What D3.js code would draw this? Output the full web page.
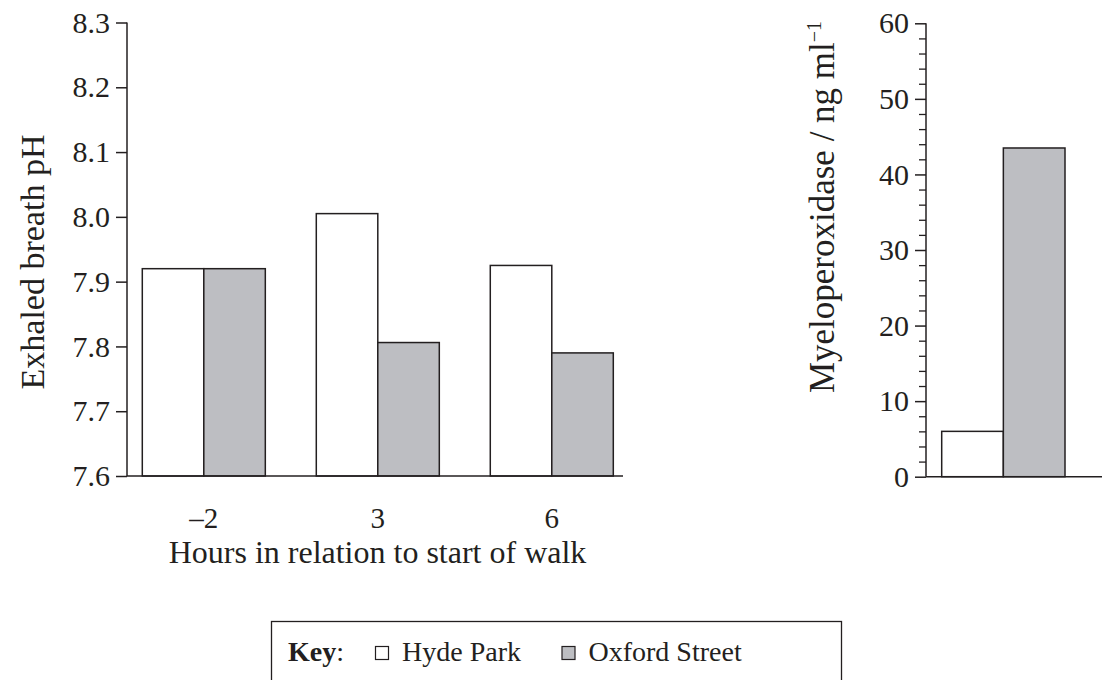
<!DOCTYPE html>
<html><head><meta charset="utf-8">
<script src="https://cdn.jsdelivr.net/npm/d3@7"></script>
<style>
html,body{margin:0;padding:0;background:#fff;}
svg{display:block;}
text{font-family:"Liberation Serif","Times New Roman",serif;fill:#231f20;}
</style></head>
<body>
<svg id="chart" width="1102" height="680"></svg>
<script>
// ---- data ----
const hours = ["\u20132", "3", "6"];
const seriesNames = ["Hyde Park", "Oxford Street"];
const hydeParkPH = [7.92, 8.005, 7.925];
const oxfordStreetPH = [7.92, 7.806, 7.79];
const phTicks = [7.6, 7.7, 7.8, 7.9, 8.0, 8.1, 8.2, 8.3];
const mpoValues = [6, 43.5];          // Hyde Park, Oxford Street
const mpoTicks = [0, 10, 20, 30, 40, 50, 60];
const mpoMinorTicks = d3.range(0, 61, 2);

const colors = { "Hyde Park": "#ffffff", "Oxford Street": "#bdbec2" };
const stroke = "#231f20";

const svg = d3.select("#chart");

// ---- left chart ----
const yL = d3.scaleLinear().domain([7.6, 8.3]).range([476, 22.5]);
const xL = d3.scaleBand().domain(hours).range([142.3, 613.3]).paddingInner(0.293).paddingOuter(0);
const xS = d3.scaleBand().domain(seriesNames).range([0, xL.bandwidth()]);

const leftData = hours.map((h, i) => ({ h, vals: [
  { s: "Hyde Park", v: hydeParkPH[i] }, { s: "Oxford Street", v: oxfordStreetPH[i] } ] }));

const gL = svg.append("g");
gL.selectAll("g.grp").data(leftData).join("g")
  .attr("transform", d => `translate(${xL(d.h)},0)`)
  .selectAll("rect").data(d => d.vals).join("rect")
  .attr("x", d => xS(d.s)).attr("width", xS.bandwidth())
  .attr("y", d => yL(d.v)).attr("height", d => yL(7.6) - yL(d.v))
  .attr("fill", d => colors[d.s]).attr("stroke", stroke).attr("stroke-width", 1.5);

const axL = gL.append("g").attr("transform", "translate(127,0)")
  .call(d3.axisLeft(yL).tickValues(phTicks).tickFormat(d3.format(".1f")).tickSize(11).tickPadding(6));
axL.select(".domain").attr("d", `M0,${yL(8.3)}V${yL(7.6)}`).attr("stroke", stroke).attr("stroke-width", 1.5);
axL.selectAll(".tick line").attr("stroke", stroke).attr("stroke-width", 1.5);
axL.selectAll(".tick text").style("font-size", "30px").attr("fill", stroke)
  .style("font-family", "'Liberation Serif', serif");
gL.append("line").attr("x1", 127).attr("x2", 623).attr("y1", yL(7.6)).attr("y2", yL(7.6))
  .attr("stroke", stroke).attr("stroke-width", 1.5);

gL.selectAll("text.xl").data(hours).join("text").attr("class", "xl")
  .attr("x", d => xL(d) + xL.bandwidth() / 2).attr("y", 528)
  .attr("text-anchor", "middle").style("font-size", "29px").text(d => d);
gL.append("text").attr("x", 377.5).attr("y", 563).attr("text-anchor", "middle")
  .style("font-size", "32px").text("Hours in relation to start of walk");
gL.append("text").attr("transform", "translate(44,262) rotate(-90)")
  .attr("text-anchor", "middle").style("font-size", "34px").text("Exhaled breath pH");

// ---- right chart ----
const yR = d3.scaleLinear().domain([0, 60]).range([476.7, 23.3]);
const xR = d3.scaleBand().domain(seriesNames).range([941.7, 1065]);
const gR = svg.append("g");
gR.selectAll("rect").data(seriesNames.map((s, i) => ({ s, v: mpoValues[i] }))).join("rect")
  .attr("x", d => xR(d.s)).attr("width", xR.bandwidth())
  .attr("y", d => yR(d.v)).attr("height", d => yR(0) - yR(d.v))
  .attr("fill", d => colors[d.s]).attr("stroke", stroke).attr("stroke-width", 1.5);

const axRm = gR.append("g").attr("transform", "translate(926,0)")
  .call(d3.axisLeft(yR).tickValues(mpoMinorTicks.filter(t => t % 10 !== 0)).tickFormat("").tickSize(7));
axRm.select(".domain").remove();
axRm.selectAll(".tick line").attr("stroke", stroke).attr("stroke-width", 1.3);
const axR = gR.append("g").attr("transform", "translate(926,0)")
  .call(d3.axisLeft(yR).tickValues(mpoTicks).tickSize(11).tickPadding(6));
axR.select(".domain").attr("d", `M0,${yR(60)}V${yR(0)}`).attr("stroke", stroke).attr("stroke-width", 1.5);
axR.selectAll(".tick line").attr("stroke", stroke).attr("stroke-width", 1.5);
axR.selectAll(".tick text").style("font-size", "30px").attr("fill", stroke)
  .style("font-family", "'Liberation Serif', serif");
gR.append("line").attr("x1", 926).attr("x2", 1102).attr("y1", yR(0)).attr("y2", yR(0))
  .attr("stroke", stroke).attr("stroke-width", 1.5);

const rt = gR.append("text").attr("transform", "translate(834,207) rotate(-90)")
  .attr("text-anchor", "middle").style("font-size", "35px");
rt.append("tspan").text("Myeloperoxidase / ng ml");
rt.append("tspan").attr("dy", -13).style("font-size", "20px").text("\u22121");

// ---- legend ----
const gK = svg.append("g");
gK.append("rect").attr("x", 271.5).attr("y", 621.5).attr("width", 570).attr("height", 80)
  .attr("fill", "none").attr("stroke", stroke).attr("stroke-width", 1.3);
const kt = gK.append("text").attr("x", 288).attr("y", 661).style("font-size", "28px");
kt.append("tspan").style("font-weight", "bold").text("Key");
kt.append("tspan").text(":");
const legX = { "Hyde Park": 375, "Oxford Street": 561.5 };
seriesNames.forEach(s => {
  gK.append("rect").attr("x", legX[s] + 0.5).attr("y", 646.5).attr("width", 13).attr("height", 13)
    .attr("fill", colors[s]).attr("stroke", stroke).attr("stroke-width", 1.2);
  gK.append("text").attr("x", legX[s] + 27).attr("y", 661).style("font-size", "28px").text(s);
});
</script>
</body></html>
